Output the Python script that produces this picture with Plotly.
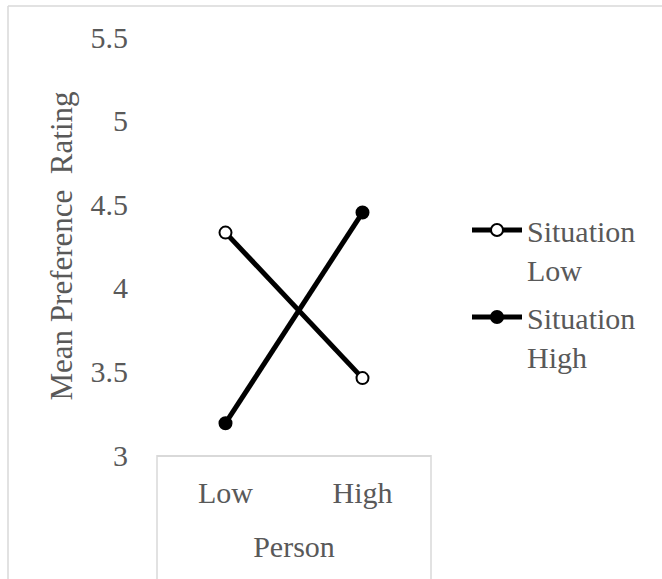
import plotly.graph_objects as go

categories = ["Low", "High"]
x_title = "Person"
y_title = "Mean Preference  Rating"
series_names = ["Situation<br>Low", "Situation<br>High"]
situation_low = [4.33, 3.46]
situation_high = [3.19, 4.45]
y_ticks = [3, 3.5, 4, 4.5, 5, 5.5]

W, H = 662, 579
L, R, T, B = 157, 231, 37, 124
pw, ph = W - L - R, H - T - B

def px_x(px):
    return (px - L) / pw

def px_y(py):
    return (H - B - py) / ph

FONT = '"Liberation Serif", "Times New Roman", Times, serif'
GRAY = "#595959"
LINEGRAY = "#d9d9d9"

xs = list(range(len(categories)))

fig = go.Figure()
fig.add_trace(go.Scatter(
    x=xs, y=situation_low, name=series_names[0], mode="lines+markers",
    legendgroup="g1",
    line=dict(color="black", width=5),
    marker=dict(symbol="circle", size=12, color="white",
                line=dict(color="black", width=2)),
))
fig.add_trace(go.Scatter(
    x=xs, y=situation_high, name=series_names[1], mode="lines+markers",
    legendgroup="g2",
    line=dict(color="black", width=5),
    marker=dict(symbol="circle", size=12, color="black",
                line=dict(color="black", width=2)),
))

shapes = [
    dict(type="line", xref="paper", yref="paper", x0=0, x1=0, y0=0, y1=px_y(H + 5),
         line=dict(color=LINEGRAY, width=1.5)),
    dict(type="line", xref="paper", yref="paper", x0=1, x1=1, y0=0, y1=px_y(H + 5),
         line=dict(color=LINEGRAY, width=1.5)),
    dict(type="line", xref="paper", yref="paper", x0=px_x(8), x1=px_x(8),
         y0=px_y(6), y1=px_y(H + 5), line=dict(color=LINEGRAY, width=1.5)),
    dict(type="line", xref="paper", yref="paper", x0=px_x(8), x1=px_x(W + 5),
         y0=px_y(6), y1=px_y(6), line=dict(color=LINEGRAY, width=1.5)),
]

fig.update_layout(
    width=W, height=H,
    margin=dict(l=L, r=R, t=T, b=B, autoexpand=False),
    paper_bgcolor="white", plot_bgcolor="white",
    font=dict(family=FONT, size=30, color=GRAY),
    showlegend=True,
    legend=dict(x=px_x(467), y=px_y(204), xanchor="left", yanchor="top",
                font=dict(family=FONT, size=30, color=GRAY),
                valign="top", itemwidth=50, tracegroupgap=6,
                bgcolor="rgba(0,0,0,0)"),
    shapes=shapes,
    xaxis=dict(range=[-0.5, 1.5], tickvals=xs, ticktext=categories,
               showgrid=False, zeroline=False, showline=True,
               linecolor=LINEGRAY, linewidth=1.5, ticks="",
               ticklabelstandoff=10,
               tickfont=dict(family=FONT, size=30, color=GRAY),
               title=dict(text=x_title, standoff=28,
                          font=dict(family=FONT, size=30, color=GRAY)),
               fixedrange=True),
    yaxis=dict(range=[3, 5.5], tickvals=y_ticks,
               ticktext=[f"{v:g}" for v in y_ticks],
               showgrid=False, zeroline=False, showline=False, ticks="",
               ticklabelstandoff=28,
               tickfont=dict(family=FONT, size=30, color=GRAY),
               title=dict(text=y_title, standoff=8,
                          font=dict(family=FONT, size=31, color=GRAY)),
               fixedrange=True),
)

fig.write_html("out.html", post_script="document.body.style.margin='0px';",
               config={"displayModeBar": False})
